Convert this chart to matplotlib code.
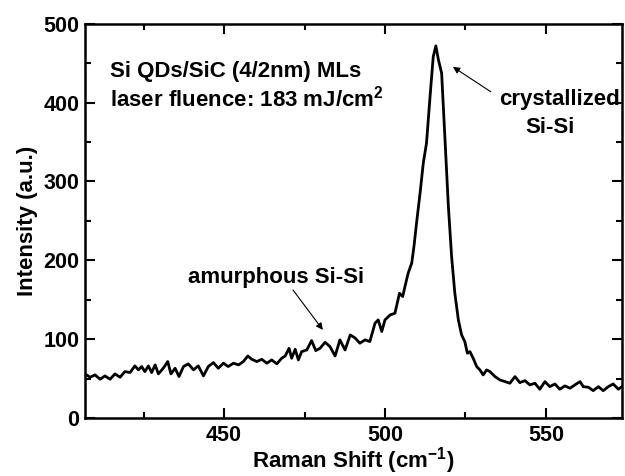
import matplotlib
matplotlib.use("Agg")
import matplotlib.pyplot as plt
from matplotlib.ticker import MultipleLocator

plt.rcParams['font.family'] = ['Liberation Sans', 'DejaVu Sans']
plt.rcParams['font.weight'] = 'bold'
plt.rcParams['mathtext.fontset'] = 'custom'
plt.rcParams['mathtext.rm'] = 'Liberation Sans:bold'
plt.rcParams['mathtext.bf'] = 'Liberation Sans:bold'
plt.rcParams['mathtext.default'] = 'bf'

raman_shift = [406.8, 408.4, 409.9, 411.5, 413.0, 414.6, 416.1, 417.7, 419.2, 420.8,
               422.3, 423.4, 424.4, 425.4, 426.5, 427.5, 428.6, 429.6, 431.1, 432.5,
               433.5, 434.8, 436.0, 437.4, 438.9, 440.5, 442.0, 443.6, 445.1, 446.7,
               448.2, 449.8, 451.3, 452.9, 454.5, 456.0, 457.4, 458.6, 460.2, 461.7,
               463.3, 464.8, 466.4, 467.9, 469.0, 470.2, 471.0, 472.1, 473.1, 474.1,
               475.7, 477.2, 478.5, 479.8, 481.4, 482.9, 484.5, 486.0, 487.6, 489.2,
               490.7, 492.2, 493.8, 495.3, 496.9, 497.9, 499.0, 500.0, 501.6, 503.1,
               504.5, 505.5, 506.2, 507.2, 508.3, 509.0, 509.8, 510.9, 511.9, 512.9,
               514.0, 515.0, 515.8, 516.6, 517.6, 518.6, 519.7, 520.7, 521.7, 522.8,
               523.8, 524.8, 525.6, 526.4, 527.4, 528.5, 529.5, 530.5, 531.6, 532.6,
               534.2, 535.7, 537.3, 538.8, 540.4, 541.9, 543.5, 545.0, 546.6, 548.1,
               549.7, 551.2, 552.8, 554.3, 555.9, 557.5, 559.0, 560.6, 561.6, 563.2,
               564.7, 566.3, 567.8, 569.4, 570.9, 572.5, 573.6]
intensity = [55.9, 51.6, 54.6, 49.1, 53.3, 49.1, 55.9, 51.6, 58.8, 57.6,
             66.0, 61.0, 65.2, 58.8, 66.0, 57.6, 67.3, 55.9, 63.0, 71.5,
             55.9, 63.0, 52.5, 65.2, 68.6, 61.0, 66.0, 53.3, 65.2, 70.2,
             63.0, 69.4, 65.2, 69.4, 67.3, 71.5, 78.6, 74.4, 71.5, 74.4,
             69.4, 73.6, 68.6, 75.7, 78.6, 88.3, 75.7, 87.1, 73.6, 84.1,
             86.2, 98.1, 85.4, 88.3, 96.0, 90.5, 78.6, 99.0, 86.2, 105.3,
             101.5, 94.8, 99.0, 96.9, 120.1, 124.4, 109.6, 124.4, 130.7, 132.8,
             158.2, 154.0, 166.6, 183.6, 196.3, 217.4, 247.0, 285.2, 323.2, 348.6,
             407.7, 458.5, 472.0, 454.3, 437.4, 357.0, 268.1, 204.7, 158.2, 124.4,
             105.3, 96.9, 82.1, 84.1, 75.7, 65.2, 60.9, 54.6, 60.9, 58.8,
             52.4, 48.2, 46.1, 44.0, 52.4, 44.8, 47.3, 41.9, 44.0, 36.4,
             46.1, 39.7, 43.1, 36.4, 40.6, 37.7, 41.9, 46.1, 39.7, 38.9,
             34.6, 39.7, 34.6, 39.7, 43.1, 36.4, 39.7]

x_ticks = [450, 500, 550]
y_ticks = [0, 100, 200, 300, 400, 500]

fig = plt.figure(figsize=(6.25, 4.76), dpi=100)
ax = fig.add_axes([0.136, 0.122, 0.859, 0.828])
ax.plot(raman_shift, intensity, color='black', lw=2.0)

ax.set_xlim(406.8, 573.6)
ax.set_ylim(0, 500)
ax.set_xticks(x_ticks)
ax.set_yticks(y_ticks)
ax.xaxis.set_minor_locator(MultipleLocator(25))
ax.yaxis.set_minor_locator(MultipleLocator(50))
ax.tick_params(which='both', direction='in', top=True, right=True, width=1.5,
               labelsize=15.5)
ax.tick_params(which='major', length=7)
ax.tick_params(axis='x', which='major', pad=5)
ax.tick_params(axis='y', which='major', pad=4)
ax.tick_params(which='minor', length=4)
for s in ax.spines.values():
    s.set_linewidth(1.8)

ax.set_xlabel(r'Raman Shift (cm$^{-1}$)', fontsize=16, fontweight='bold')
ax.xaxis.set_label_coords(0.5, -0.068)
ax.set_ylabel('Intensity (a.u.)', fontsize=16, fontweight='bold', labelpad=4)

ax.text(414.5, 440, 'Si QDs/SiC (4/2nm) MLs', fontsize=16, fontweight='bold',
        ha='left', va='center')
ax.text(414.5, 405, r'laser fluence: 183 mJ/cm$^2$', fontsize=16, fontweight='bold',
        ha='left', va='center')

ax.annotate('', xy=(521.1, 445.4), xytext=(532.9, 413.7),
            arrowprops=dict(arrowstyle='-|>', color='black', lw=0.8,
                            mutation_scale=10, shrinkA=0, shrinkB=0))
ax.text(554.3, 403.6, 'crystallized', fontsize=16, fontweight='bold',
        ha='center', va='center')
ax.text(551.2, 368, 'Si-Si', fontsize=16, fontweight='bold',
        ha='center', va='center')

ax.annotate('', xy=(480.7, 111.7), xytext=(471.4, 162.4),
            arrowprops=dict(arrowstyle='-|>', color='black', lw=0.8,
                            mutation_scale=10, shrinkA=0, shrinkB=0))
ax.text(466.1, 177.7, 'amurphous Si-Si', fontsize=16, fontweight='bold',
        ha='center', va='center')

fig.savefig('out.png', dpi=100)
